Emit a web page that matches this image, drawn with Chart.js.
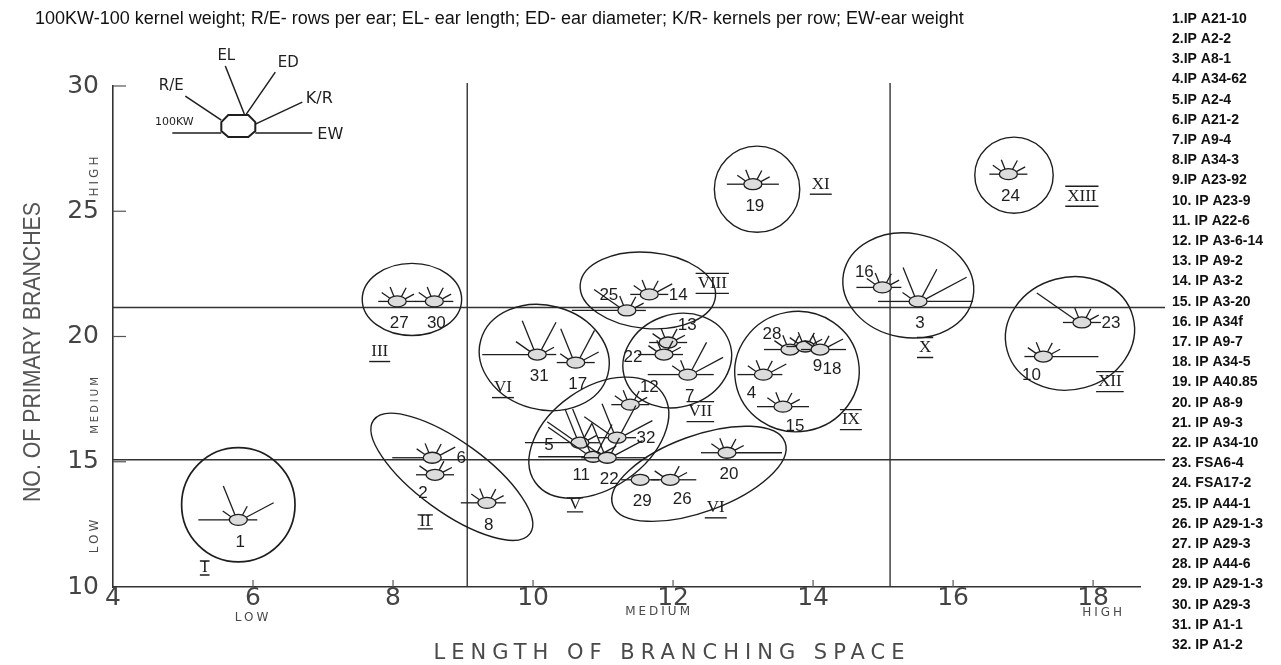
<!DOCTYPE html>
<html>
<head>
<meta charset="utf-8">
<script src="https://cdn.jsdelivr.net/npm/chart.js"></script>
<style>
  body { margin: 0; background: #fff; }
</style>
</head>
<body>
<canvas id="glyphs" width="1281" height="665"></canvas>
<script>
// genotype list shown at the right
const genotypeNames = [
  "1.IP A21-10", "2.IP A2-2", "3.IP A8-1", "4.IP A34-62", "5.IP A2-4", "6.IP A21-2",
  "7.IP A9-4", "8.IP A34-3", "9.IP A23-92", "10. IP A23-9", "11. IP A22-6", "12. IP A3-6-14",
  "13. IP A9-2", "14. IP A3-2", "15. IP A3-20", "16. IP A34f", "17. IP A9-7", "18. IP A34-5",
  "19. IP A40.85", "20. IP A8-9", "21. IP A9-3", "22. IP A34-10", "23. FSA6-4", "24. FSA17-2",
  "25. IP A44-1", "26. IP A29-1-3", "27. IP A29-3", "28. IP A44-6", "29. IP A29-1-3", "30. IP A29-3",
  "31. IP A1-1", "32. IP A1-2"
];

// glyph label as written on the plot
const pointIds = ['1','2','6','8','27','30','31','17','25','14','13','22','7','28','9','18',
                  '4','15','12','32','5','11','22','29','26','20','19','16','3','24','23','10'];
// length of branching space
const branchSpace = [5.79, 8.6, 8.56, 9.34, 8.06, 8.59, 10.06, 10.61, 11.34, 11.66, 11.93, 11.87, 12.21, 13.67, 13.89, 14.1,
                     13.29, 13.57, 11.39, 11.2, 10.67, 10.86, 11.06, 11.53, 11.96, 12.77, 13.14, 14.99, 15.5, 16.79, 17.84, 17.29];
// no. of primary branches
const primaryBranches = [12.68, 14.48, 15.16, 13.36, 21.4, 21.4, 19.28, 18.96, 21.04, 21.68, 19.76, 19.28, 18.48, 19.48, 19.6, 19.48,
                         18.48, 17.2, 17.28, 15.96, 15.76, 15.2, 15.16, 14.28, 14.28, 15.36, 26.08, 21.96, 21.4, 26.48, 20.56, 19.2];
// ray levels: 100KW, R/E, EL, ED, K/R, EW
const rays = [
  [3,1,3,1,3,1], [1,1,0,1,1,1], [3,1,1,1,2,0], [2,1,1,1,1,1], [1,1,1,1,1,1], [1,1,1,1,1,1],
  [4,2,3,3,1,1], [1,1,3,3,2,1], [4,3,1,1,1,1], [1,1,1,1,2,1], [1,1,1,1,1,1], [2,1,1,1,1,1],
  [3,1,1,3,3,2], [2,1,1,1,1,1], [1,1,1,1,1,1], [1,1,1,1,2,2], [2,1,1,1,2,1], [2,1,1,1,1,2],
  [1,1,1,1,1,1], [1,3,3,3,3,1], [4,3,3,2,1,1], [4,4,4,3,2,1], [2,2,3,2,3,3], [1,0,0,0,0,1],
  [1,1,0,1,1,2], [2,1,1,1,1,4], [2,1,1,1,1,2], [2,1,1,1,1,1], [3,1,3,3,4,4], [1,1,1,1,1,1],
  [1,4,1,1,1,1], [1,1,1,1,1,4]
];

// groups (clusters) in data units
const groupNames = ['I','II','III','VI','VIII','VII','IX','V','VI','XI','X','XIII','XII'];
const groupX = [5.79, 8.84, 8.27, 10.16, 11.64, 12.06, 13.77, 10.94, 12.37, 13.2, 15.36, 16.87, 17.67];
const groupY = [13.28, 14.4, 21.48, 19.16, 21.84, 19.04, 18.6, 15.96, 14.52, 25.88, 22.04, 26.44, 20.12];
const groupW = [0.81, 1.38, 0.71, 0.94, 0.97, 0.79, 0.89, 1.11, 1.31, 0.61, 0.94, 0.56, 0.93];
const groupH = [2.28, 1.4, 1.44, 2.08, 1.52, 1.84, 2.4, 2.0, 1.52, 1.72, 2.08, 1.52, 2.24];
const groupTilt = [0, 36, 0, 15, 5, -20, -10, -35, -20, 0, 10, 0, -15];
const groupLabelX = [5.31, 8.46, 7.81, 9.57, 12.56, 12.39, 14.54, 10.6, 12.61, 14.11, 15.6, 17.84, 18.24];
const groupLabelY = [10.76, 12.6, 19.4, 17.96, 22.12, 17.0, 16.68, 13.28, 13.16, 26.08, 19.56, 25.6, 18.2];

// quadrant split lines
const splitX = [9.06, 15.1];
const splitY = [21.16, 15.08];

// ---- styles / layout (not data) ----
const labelSide = ['b','bl','r','b','b','b','b','b','tl','r','tr','l','b','tl','br','br',
                   'bl','br','tr','r','l','bl','b','b','br','b','b','tl','b','b','r','bl'];
const sideOffset = { b: [2, 22], bl: [-12, 19], br: [12, 20], r: [29, 1], l: [-31, 3], tl: [-18, -15], tr: [19, -17] };
const groupDecor = ['plain','plain','under','under','both','both','both','plain','under','under','both','both','both'];
const rayAngles = [180, 145, 112, 62, 28, 0];
const rayLen = [0, 10, 17, 31, 46];

const ink = '#1e1e1e';

function drawRoman(ctx, text, x, y, decor) {
  ctx.font = '17px "Liberation Serif"';
  ctx.textAlign = 'center';
  ctx.textBaseline = 'middle';
  ctx.fillText(text, x, y);
  const w = ctx.measureText(text).width + 4;
  ctx.lineWidth = 1.4;
  ctx.beginPath();
  if (decor === 'plain') {
    // little serif bars
    ctx.moveTo(x - w / 2, y - 7); ctx.lineTo(x + w / 2, y - 7);
    ctx.moveTo(x - w / 2, y + 7); ctx.lineTo(x + w / 2, y + 7);
  } else {
    ctx.moveTo(x - w / 2, y + 10); ctx.lineTo(x + w / 2, y + 10);
    if (decor === 'both') { ctx.moveTo(x - w / 2, y - 10); ctx.lineTo(x + w / 2, y - 10); }
  }
  ctx.stroke();
}

const glyphPlugin = {
  id: 'glyphPlugin',
  beforeDraw(chart) {
    const ctx = chart.ctx;
    ctx.save();
    ctx.fillStyle = '#fff';
    ctx.fillRect(0, 0, chart.width, chart.height);
    ctx.restore();
  },
  afterDraw(chart) {
    const { ctx, chartArea: a, scales: { x, y } } = chart;
    const ux = x.getPixelForValue(1) - x.getPixelForValue(0);
    const uy = y.getPixelForValue(0) - y.getPixelForValue(1);
    ctx.save();
    ctx.strokeStyle = '#333';
    ctx.fillStyle = ink;

    // split lines
    ctx.lineWidth = 1.4;
    splitX.forEach(v => {
      const p = x.getPixelForValue(v);
      ctx.beginPath(); ctx.moveTo(p, a.top - 3); ctx.lineTo(p, a.bottom); ctx.stroke();
    });
    splitY.forEach(v => {
      const p = y.getPixelForValue(v);
      ctx.beginPath(); ctx.moveTo(a.left, p); ctx.lineTo(a.right + 25, p); ctx.stroke();
    });

    // inner tick marks
    ctx.lineWidth = 1.2;
    ctx.strokeStyle = '#555';
    y.ticks.forEach(t => {
      if (t.value === 10) return;
      const p = y.getPixelForValue(t.value);
      ctx.beginPath(); ctx.moveTo(a.left, p); ctx.lineTo(a.left + 13, p); ctx.stroke();
    });
    x.ticks.forEach(t => {
      if (t.value === 4) return;
      const p = x.getPixelForValue(t.value);
      ctx.beginPath(); ctx.moveTo(p, a.bottom); ctx.lineTo(p, a.bottom - 7); ctx.stroke();
    });

    // group outlines
    ctx.strokeStyle = ink;
    ctx.lineWidth = 1.7;
    groupNames.forEach((g, i) => {
      ctx.beginPath();
      ctx.ellipse(x.getPixelForValue(groupX[i]), y.getPixelForValue(groupY[i]),
        groupW[i] * ux, groupH[i] * uy, groupTilt[i] * Math.PI / 180, 0, Math.PI * 2);
      ctx.stroke();
      drawRoman(ctx, g, x.getPixelForValue(groupLabelX[i]), y.getPixelForValue(groupLabelY[i]), groupDecor[i]);
    });

    // metroglyphs
    const meta = chart.getDatasetMeta(0);
    meta.data.forEach((pt, i) => {
      const cx = pt.x, cy = pt.y;
      ctx.lineWidth = 1.3;
      rays[i].forEach((lv, k) => {
        if (!lv) return;
        const r = rayAngles[k] * Math.PI / 180;
        const sx = cx + 9 * Math.cos(r), sy = cy - 5.5 * Math.sin(r);
        ctx.beginPath();
        ctx.moveTo(sx, sy);
        ctx.lineTo(sx + rayLen[lv] * Math.cos(r), sy - rayLen[lv] * Math.sin(r));
        ctx.stroke();
      });
      ctx.beginPath();
      ctx.ellipse(cx, cy, 9, 5.5, 0, 0, Math.PI * 2);
      ctx.fillStyle = '#dcdcdc';
      ctx.fill();
      ctx.stroke();
      const off = sideOffset[labelSide[i]];
      ctx.fillStyle = ink;
      ctx.font = '17px "Liberation Sans"';
      ctx.textAlign = 'center';
      ctx.textBaseline = 'middle';
      ctx.fillText(pointIds[i], cx + off[0], cy + off[1]);
    });

    // key glyph (top-left)
    const kx = x.getPixelForValue(5.79), ky = y.getPixelForValue(28.4);
    ctx.lineWidth = 2;
    ctx.beginPath();
    const oct = [[-10,-11],[10,-11],[17,-4],[17,5],[10,11],[-10,11],[-17,5],[-17,-4]];
    oct.forEach((p, i) => i ? ctx.lineTo(kx + p[0], ky + p[1]) : ctx.moveTo(kx + p[0], ky + p[1]));
    ctx.closePath();
    ctx.stroke();
    const keyRays = [
      [[-17, 7], [-66, 7], '100KW', [-64, -4], 11],
      [[-17, -6], [-53, -30], 'R/E', [-67, -40], 15],
      [[6, -12], [-13, -60], 'EL', [-12, -70], 15],
      [[8, -12], [37, -54], 'ED', [50, -63], 15],
      [[17, -2], [64, -24], 'K/R', [81, -27], 16],
      [[17, 7], [74, 7], 'EW', [92, 9], 16]
    ];
    ctx.lineWidth = 1.5;
    keyRays.forEach(r => {
      ctx.beginPath();
      ctx.moveTo(kx + r[0][0], ky + r[0][1]);
      ctx.lineTo(kx + r[1][0], ky + r[1][1]);
      ctx.stroke();
      ctx.font = r[4] + 'px "DejaVu Sans"';
      ctx.textAlign = 'center';
      ctx.fillText(r[2], kx + r[3][0], ky + r[3][1]);
    });

    // axis titles and level words
    ctx.fillStyle = '#4a4a4a';
    ctx.font = '21px "DejaVu Sans"';
    ctx.letterSpacing = '6px';
    ctx.textAlign = 'center';
    ctx.fillText('LENGTH OF BRANCHING SPACE', 672, 654);
    ctx.font = '12px "DejaVu Sans"';
    ctx.letterSpacing = '3px';
    ctx.fillText('LOW', x.getPixelForValue(6), 618);
    ctx.fillText('MEDIUM', x.getPixelForValue(11.8), 612);
    ctx.fillText('HIGH', x.getPixelForValue(18.15), 613);
    [['HIGH', 175], ['MEDIUM', 404], ['LOW', 535]].forEach(w => {
      ctx.save();
      ctx.translate(95, w[1]);
      ctx.rotate(-Math.PI / 2);
      ctx.font = (w[0] === 'MEDIUM' ? 10 : 12) + 'px "DejaVu Sans"';
      ctx.fillText(w[0], 0, 0);
      ctx.restore();
    });
    ctx.letterSpacing = '0px';
    ctx.save();
    ctx.translate(33, 352);
    ctx.rotate(-Math.PI / 2);
    ctx.font = '24px "Liberation Sans Narrow", "Liberation Sans"';
    ctx.fillStyle = '#555';
    ctx.fillText('NO. OF PRIMARY BRANCHES', 0, 0, 300);
    ctx.restore();

    // note line at top
    ctx.fillStyle = '#111';
    ctx.textAlign = 'left';
    ctx.font = '18px "Liberation Sans"';
    ctx.fillText('100KW-100 kernel weight; R/E- rows per ear; EL- ear length; ED- ear diameter; K/R- kernels per row; EW-ear weight', 35, 19, 942);

    // genotype list
    ctx.font = 'bold 14px "Liberation Sans"';
    genotypeNames.forEach((n, i) => {
      ctx.fillText(n, 1172, 19 + i * 20.2, 101);
    });
    ctx.restore();
  }
};

new Chart(document.getElementById('glyphs'), {
  type: 'scatter',
  data: {
    datasets: [{
      data: branchSpace.map((v, i) => ({ x: v, y: primaryBranches[i] })),
      pointRadius: 0,
      pointHoverRadius: 0
    }]
  },
  options: {
    responsive: false,
    animation: false,
    events: [],
    layout: { padding: { top: 86, right: 141, left: 0, bottom: 0 } },
    plugins: { legend: { display: false }, tooltip: { enabled: false } },
    scales: {
      x: {
        type: 'linear',
        min: 4,
        max: 18.67,
        afterFit: s => { s.height = 78; },
        grid: { drawOnChartArea: false, drawTicks: false },
        border: { display: true, color: '#333', width: 1.6 },
        ticks: { stepSize: 2, includeBounds: false, padding: -4, color: '#444', font: { family: 'DejaVu Sans', size: 25 } }
      },
      y: {
        min: 10,
        max: 30,
        afterFit: s => { s.width = 113; },
        grid: { drawOnChartArea: false, drawTicks: false },
        border: { display: true, color: '#333', width: 1.6 },
        ticks: { stepSize: 5, padding: 14, color: '#444', font: { family: 'DejaVu Sans', size: 25 } }
      }
    }
  },
  plugins: [glyphPlugin]
});
</script>
</body>
</html>
